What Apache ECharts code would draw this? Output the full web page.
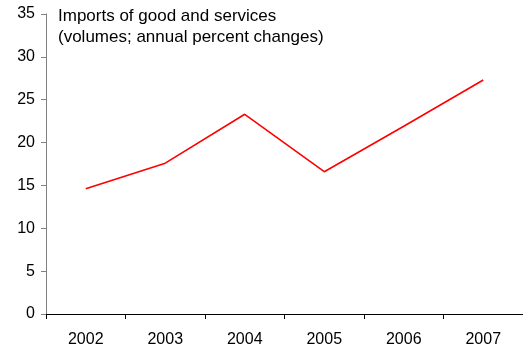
<!DOCTYPE html>
<html>
<head>
<meta charset="utf-8">
<script src="https://cdn.jsdelivr.net/npm/echarts@6/dist/echarts.min.js"></script>
<style>html,body{margin:0;padding:0;background:#fff;}#c{width:523px;height:352px;}</style>
</head>
<body>
<div id="c"></div>
<script>
const categories = ['2002', '2003', '2004', '2005', '2006', '2007'];
const imports = [14.6, 17.6, 23.3, 16.6, 21.9, 27.3];
const titleLines = ['Imports of good and services', '(volumes; annual percent changes)'];

const chart = echarts.init(document.getElementById('c'), null, {renderer: 'canvas'});
chart.setOption({
  animation: false,
  backgroundColor: '#fff',
  title: {
    text: titleLines.join('\n'),
    left: 53, top: 1, padding: 5,
    textStyle: {fontFamily: 'Liberation Sans', fontSize: 17, fontWeight: 'normal', color: '#000', lineHeight: 21}
  },
  grid: {left: 46, top: 14, width: 482, height: 300, containLabel: false},
  xAxis: {
    type: 'category', data: categories, boundaryGap: true,
    axisLine: {lineStyle: {color: '#000', width: 1}},
    axisTick: {show: true, length: 5, lineStyle: {color: '#000'}},
    axisLabel: {margin: 18, fontFamily: 'Liberation Sans', fontSize: 16, color: '#000'},
    splitLine: {show: false}
  },
  yAxis: {
    type: 'value', min: 0, max: 35, interval: 5,
    axisLine: {show: true, lineStyle: {color: '#808080', width: 1}},
    axisTick: {show: true, length: 5, lineStyle: {color: '#808080'}},
    axisLabel: {margin: 11, fontFamily: 'Liberation Sans', fontSize: 16, color: '#000'},
    splitLine: {show: false}
  },
  series: [{
    type: 'line', data: imports, symbol: 'none',
    lineStyle: {color: '#ff0000', width: 1.6}
  }]
});
</script>
</body>
</html>
